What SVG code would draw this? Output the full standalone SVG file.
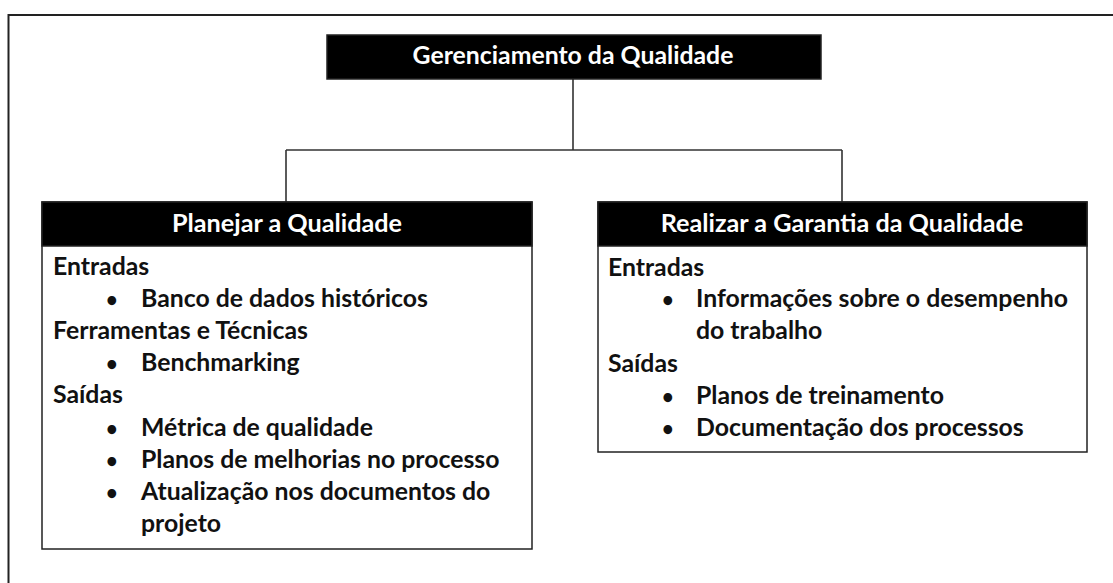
<svg xmlns="http://www.w3.org/2000/svg" width="1113" height="583" viewBox="0 0 1113 583">
<style>
.frame{fill:none;stroke:#222;stroke-width:2}
.box{fill:#fff;stroke:#222;stroke-width:1.5}
.hdr{fill:#000;stroke:#222;stroke-width:1.5}
.conn{fill:none;stroke:#333;stroke-width:1.6}
.t{font-family:Lato,"Open Sans","Liberation Sans",sans-serif;font-weight:bold;font-size:24.8px;fill:#111}
.h{font-size:25.2px}
.b{font-size:20px}
.w{fill:#fff}
.c{text-anchor:middle}
</style>
<rect width="1113" height="583" fill="#fff"/>
<rect class="frame" x="8.5" y="15" width="1200" height="700"/>
<g id="connectors">
<path class="conn" d="M573 79 V150 M286 150 H842 M286 150 V202 M842 150 V202"/>
</g>
<g id="top">
<rect class="hdr" x="327" y="35" width="494" height="44"/>
<text class="t w c" x="573" y="64" font-size="23">Gerenciamento da Qualidade</text>
</g>
<g id="planejar">
<rect class="box" x="42" y="202" width="490" height="347"/>
<rect class="hdr" x="42" y="202" width="490" height="44"/>
<text class="t h w c" x="287" y="232">Planejar a Qualidade</text>
<text class="t" x="53" y="275">Entradas</text>
<text class="t b" x="106" y="307">•</text><text class="t" x="141" y="307">Banco de dados históricos</text>
<text class="t" x="53" y="339">Ferramentas e Técnicas</text>
<text class="t b" x="106" y="371">•</text><text class="t" x="141" y="371">Benchmarking</text>
<text class="t" x="53" y="403">Saídas</text>
<text class="t b" x="106" y="436">•</text><text class="t" x="141" y="436">Métrica de qualidade</text>
<text class="t b" x="106" y="468">•</text><text class="t" x="141" y="468">Planos de melhorias no processo</text>
<text class="t b" x="106" y="500">•</text><text class="t" x="141" y="500">Atualização nos documentos do</text>
<text class="t" x="141" y="532">projeto</text>
</g>
<g id="realizar">
<rect class="box" x="598" y="202" width="489" height="250"/>
<rect class="hdr" x="598" y="202" width="489" height="44"/>
<text class="t h w c" x="842" y="232">Realizar a Garantia da Qualidade</text>
<text class="t" x="608" y="276">Entradas</text>
<text class="t b" x="662" y="307">•</text><text class="t" x="696" y="307">Informações sobre o desempenho</text>
<text class="t" x="696" y="339">do trabalho</text>
<text class="t" x="608" y="372">Saídas</text>
<text class="t b" x="662" y="404">•</text><text class="t" x="696" y="404">Planos de treinamento</text>
<text class="t b" x="662" y="436">•</text><text class="t" x="696" y="436">Documentação dos processos</text>
</g>
</svg>
